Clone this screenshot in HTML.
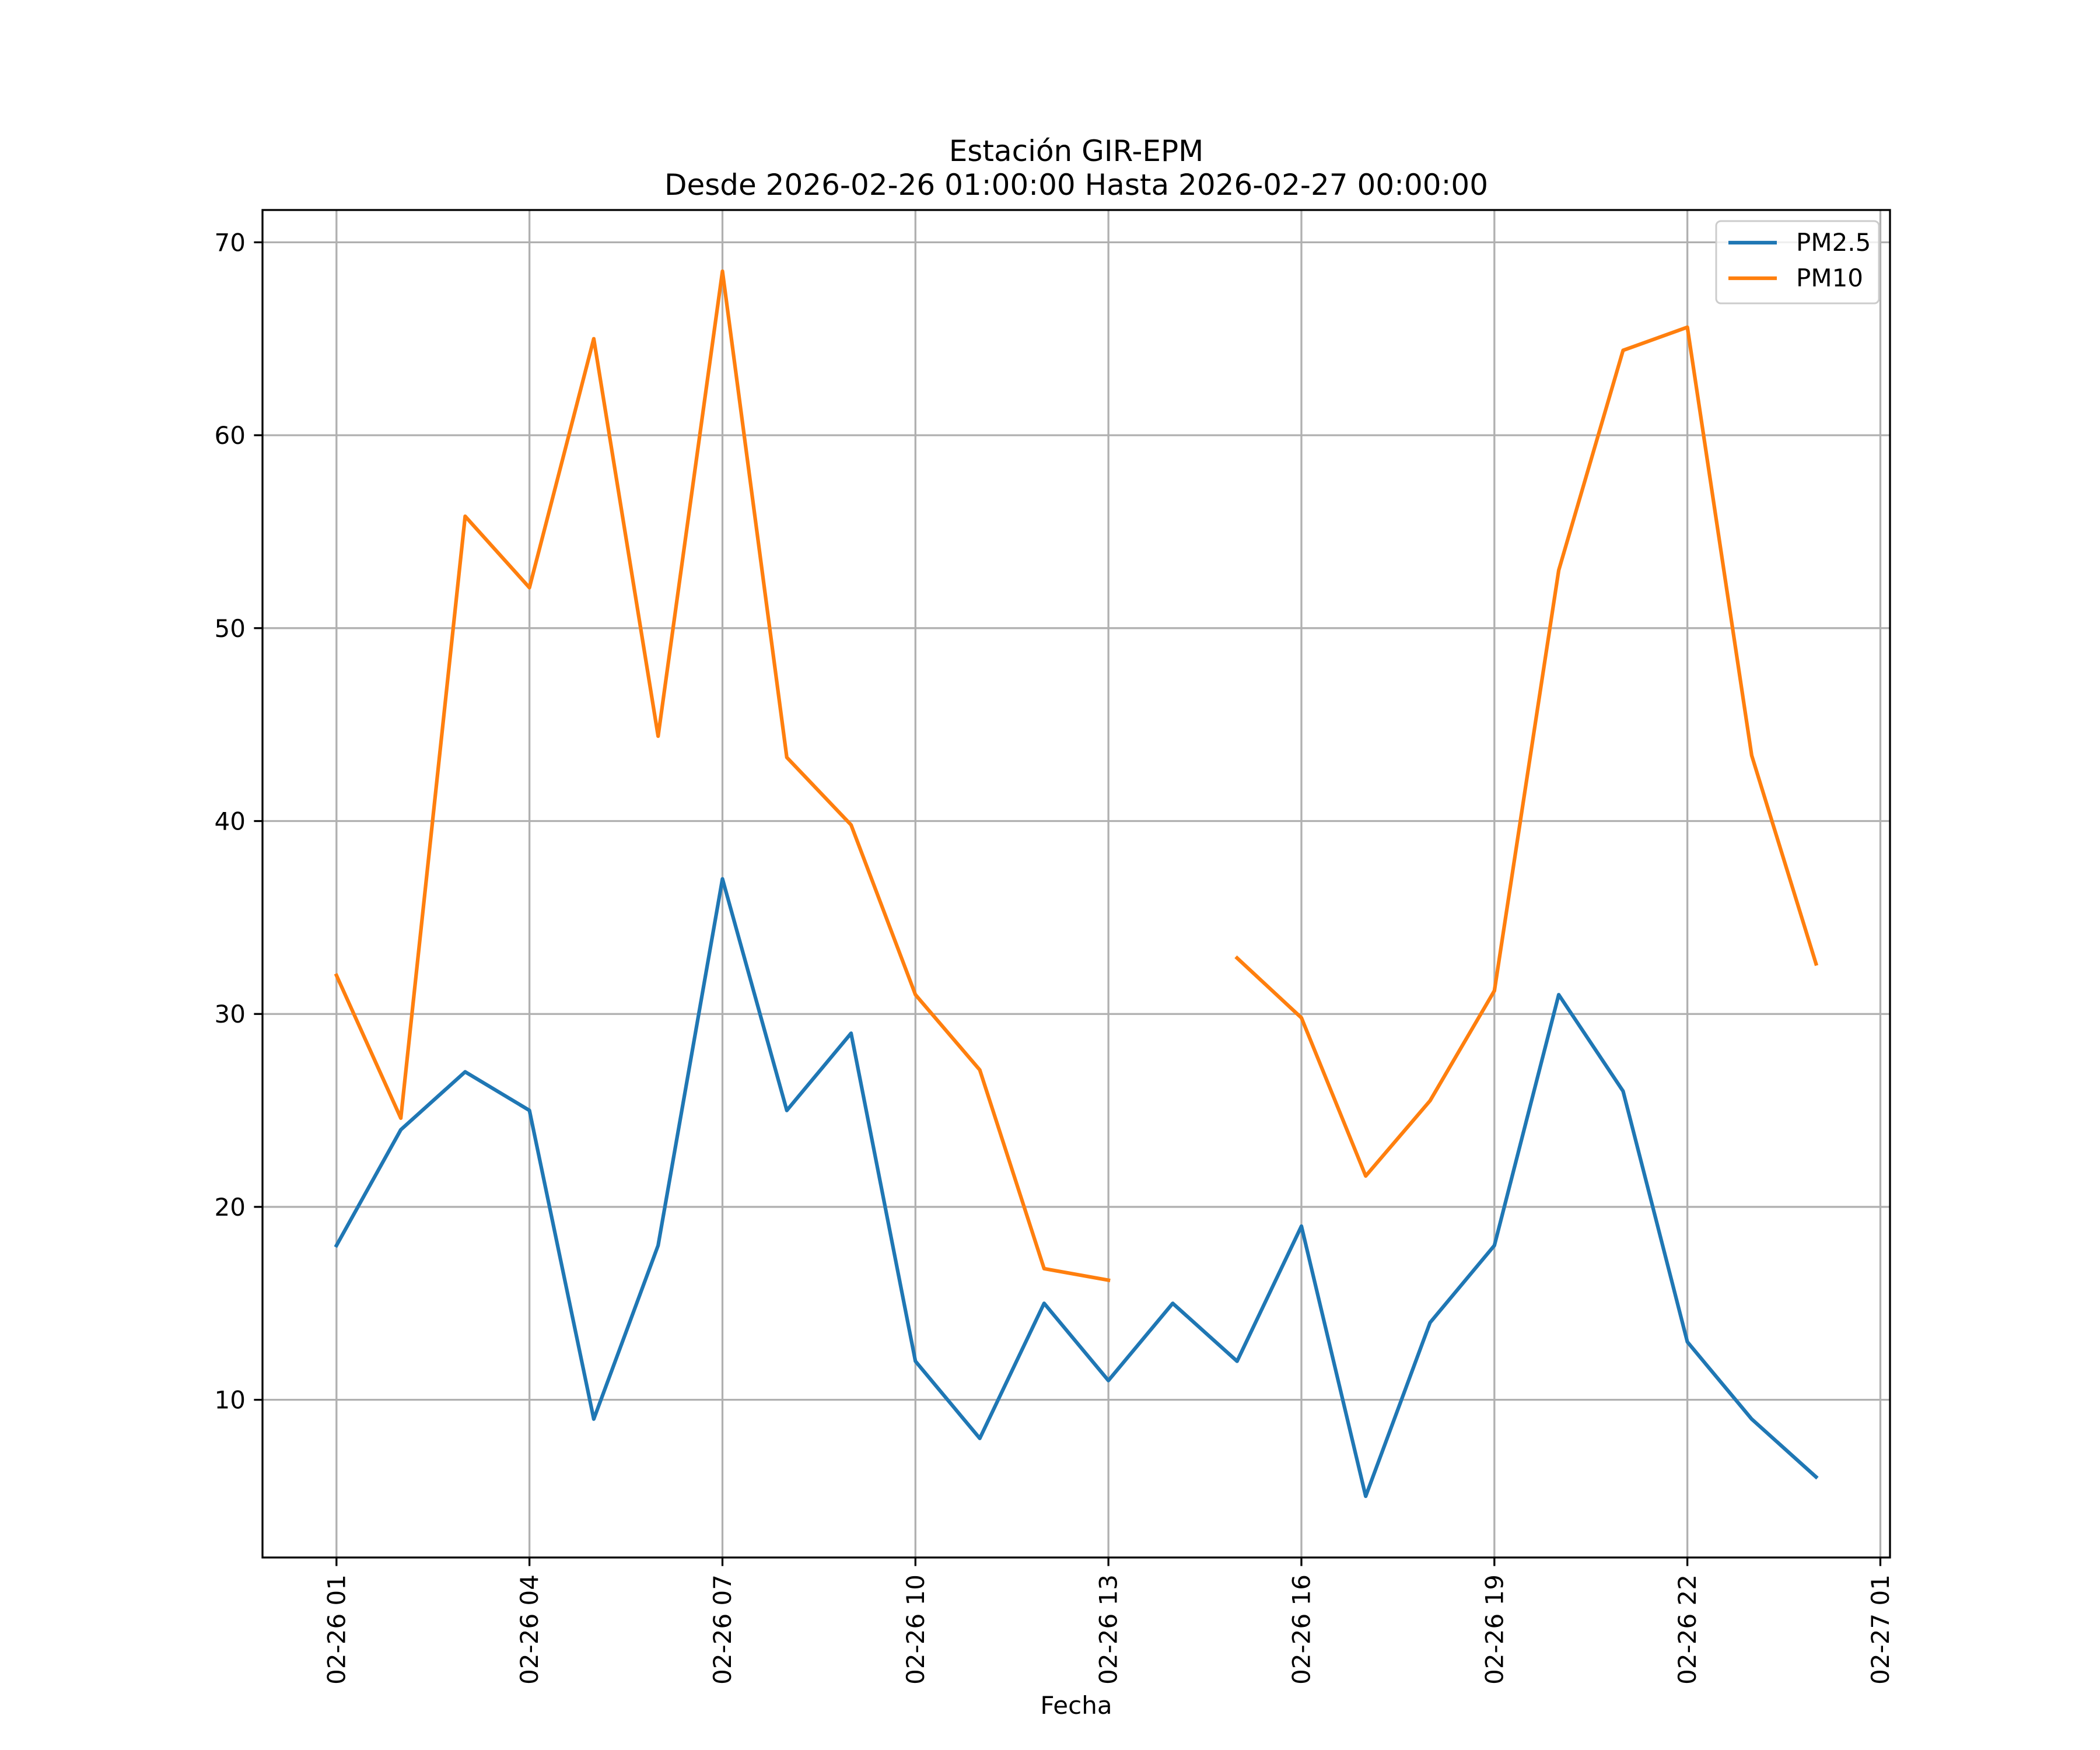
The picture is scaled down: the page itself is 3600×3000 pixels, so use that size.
<!DOCTYPE html>
<html><head><meta charset="utf-8"><style>html,body{margin:0;padding:0;background:#fff}svg{display:block}</style></head>
<body>
<svg id="chart" width="3600" height="3000" viewBox="0 0 3600 3000" xmlns="http://www.w3.org/2000/svg" font-family="'DejaVu Sans','Liberation Sans',sans-serif">
<rect width="3600" height="3000" fill="#fff"/>
<text x="1845" y="276" font-size="50" text-anchor="middle">Estación GIR-EPM</text>
<text x="1845" y="334" font-size="50" text-anchor="middle">Desde 2026-02-26 01:00:00 Hasta 2026-02-27 00:00:00</text>
<g id="grid"></g><g id="series"></g><g id="axes"></g>
<text x="1845" y="2938" font-size="42" text-anchor="middle">Fecha</text>
<g>
<rect x="2942" y="379" width="279" height="141" rx="8" fill="#fff" fill-opacity="0.8" stroke="#ccc" stroke-width="3"/>
<line x1="2963" y1="416" x2="3046" y2="416" stroke="#1f77b4" stroke-width="6.25"/>
<text x="3079" y="430" font-size="42">PM2.5</text>
<line x1="2963" y1="477" x2="3046" y2="477" stroke="#ff7f0e" stroke-width="6.25"/>
<text x="3079" y="491" font-size="42">PM10</text>
</g>
</svg>
<script>
const hours = [1,2,3,4,5,6,7,8,9,10,11,12,13,14,15,16,17,18,19,20,21,22,23,24];
const pm25 = [18,24,27,25,9,18,37,25,29,12,8,15,11,15,12,19,5,14,18,31,26,13,9,6];
const pm10 = [32,24.6,55.8,52.1,65,44.4,68.5,43.3,39.8,31,27.1,16.8,16.2,null,32.9,29.8,21.6,25.5,31.2,53,64.4,65.6,43.4,32.6];
const xTickHours = [1,4,7,10,13,16,19,22,25];
const xTickLabels = ['02-26 01','02-26 04','02-26 07','02-26 10','02-26 13','02-26 16','02-26 19','02-26 22','02-27 01'];
const yTicks = [10,20,30,40,50,60,70];

const L=450,R=3240,T=360,B=2670;
const x0=1-1.15,x1=24+1.15,y0=1.825,y1=71.675;
const X=h=>L+(h-x0)/(x1-x0)*(R-L);
const Y=v=>B-(v-y0)/(y1-y0)*(B-T);
const NS='http://www.w3.org/2000/svg';
function mk(tag,parent,attrs){const e=document.createElementNS(NS,tag);for(const k in attrs)e.setAttribute(k,attrs[k]);parent.appendChild(e);return e;}
const grid=document.getElementById('grid'),axes=document.getElementById('axes'),series=document.getElementById('series');

xTickHours.forEach((h,i)=>{
  const x=X(h);
  const g=mk('line',grid,{x1:x,x2:x,y1:T,y2:B,stroke:'#b0b0b0','stroke-width':3.3});
  
  
  const t=mk('line',axes,{x1:x,x2:x,y1:B,y2:B+14.6,stroke:'#000','stroke-width':3.3});
  
  
  const lb=mk('text',axes,{x:0,y:0,'font-size':42,'text-anchor':'end','dominant-baseline':'central',transform:`translate(${x},${B+29})rotate(-90)`});
  lb.textContent=xTickLabels[i];
  
  
});
yTicks.forEach(v=>{
  const y=Y(v);
  const g=mk('line',grid,{x1:L,x2:R,y1:y,y2:y,stroke:'#b0b0b0','stroke-width':3.3});
  
  
  const t=mk('line',axes,{x1:L-14.6,x2:L,y1:y,y2:y,stroke:'#000','stroke-width':3.3});
  
  
  const lb=mk('text',axes,{x:L-29,y:y+15,'font-size':42,'text-anchor':'end'});
  lb.textContent=v;
  
  
});
const frame=mk('rect',axes,{x:L,y:T,width:R-L,height:B-T,fill:'none',stroke:'#000','stroke-width':3.3});



function drawLine(vals,color,name){
  let d='',pen=false;
  vals.forEach((v,i)=>{
    if(v===null){pen=false;return;}
    d+=(pen?'L':'M')+X(hours[i]).toFixed(1)+' '+Y(v).toFixed(1)+' ';pen=true;
  });
  const p=mk('path',series,{d:d,fill:'none',stroke:color,'stroke-width':6.25,'stroke-linejoin':'round','stroke-linecap':'square'});
  
  
}
drawLine(pm25,'#1f77b4','pm25-line');
drawLine(pm10,'#ff7f0e','pm10-line');
</script>
</body></html>
